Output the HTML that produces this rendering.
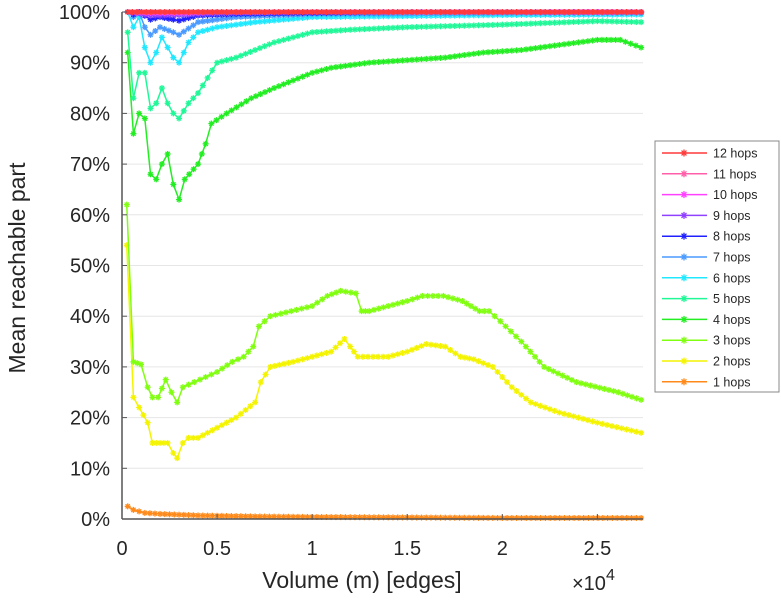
<!DOCTYPE html>
<html><head><meta charset="utf-8"><style>
body{margin:0;background:#fff}
svg text{font-family:"Liberation Sans",sans-serif;fill:#262626}
</style></head><body>
<svg id="chart" width="781" height="600" viewBox="0 0 781 600" xmlns="http://www.w3.org/2000/svg">
<g id="grid"></g>
<g id="series"></g>
<g id="axes"></g>
<text transform="translate(25,268) rotate(-90)" text-anchor="middle" font-size="23">Mean reachable part</text>
<text x="362" y="588" text-anchor="middle" font-size="23">Volume (m) [edges]</text>
<text x="572" y="590" font-size="20">×10<tspan dy="-10" font-size="16">4</tspan></text>
<g id="legend"></g>
</svg>
<script>
const yTicks=[0,10,20,30,40,50,60,70,80,90,100];
const xTicks=[0,0.5,1,1.5,2,2.5];
const seriesNames=["12 hops","11 hops","10 hops","9 hops","8 hops","7 hops","6 hops","5 hops","4 hops","3 hops","2 hops","1 hops"];
const seriesColors=["#ff3a3a","#ff5fa8","#ff40ff","#9040ff","#2020ff","#4a9aff","#20e8ff","#20f898","#22ee22","#80ff10","#f4f400","#ff8a1a"];
// x in thousands of edges
const x12=[0.3,2,5,10,15,20,25,27.3]; const y12=[100,100,100,100,100,100,100,100];
const x11=[0.3,2,5,10,15,20,25,27.3]; const y11=[100,100,100,100,100,100,100,100];
const x10=[0.3,1.5,3,5,10,15,20,27.3]; const y10=[100,99.8,99.8,100,100,100,100,100];
const x9=[0.3,1.5,3,5,10,15,20,27.3]; const y9=[100,99.3,99.4,99.8,100,100,100,100];
const x8=[0.3,0.6,0.9,1.5,2,2.7,3,4,6,10,15,20,27.3]; const y8=[100,99.5,100,98.5,99,98.5,98.3,99.3,99.6,99.8,100,100,100];
const x7=[0.3,0.6,0.9,1.2,1.5,2,2.7,3,4,6,10,15,20,27.3]; const y7=[100,99,100,97,95.5,97,96,95.5,98,99,99.6,99.7,99.8,99.8];
const x6=[0.3,0.6,0.9,1.2,1.5,1.8,2.1,2.4,2.7,3,3.5,4,5,7,10,15,20,27.3]; const y6=[100,97,99,93,90,92,95,93,91,90,94,96,97,98,99,99.2,99.4,99.5];
const x5=[0.3,0.6,0.9,1.2,1.5,1.8,2.1,2.4,2.7,3,3.5,4,4.5,5,6,7,8,9,10,12,15,20,25,27.3]; const y5=[96,83,88,88,81,82,85,82,80,79,82,84,87,90,91,92.5,94,95,96,96.5,97,97.5,98.2,98];
const x4=[0.3,0.6,0.9,1.2,1.5,1.8,2.1,2.4,2.7,3,3.3,4,4.4,4.7,5.5,6.8,8,10,11,13,15,17,19,21,23,25,26.2,27.3]; const y4=[92,76,80,79,68,67,70,72,66,63,67,70,74,78,80,83,85,88,89,90,90.5,91,92,92.5,93.5,94.5,94.5,93];
const x3=[0.25,0.6,1.0,1.35,1.6,1.9,2.3,2.6,2.9,3.2,3.8,4.4,5,5.8,6.4,6.9,7.2,7.8,8.9,10,10.8,11.5,12.3,12.6,13,14,15,15.8,16.9,17.9,18.8,19.3,19.9,21,22.2,23.9,26.1,27.3]; const y3=[62,31,30.5,26,24,24,27.5,25,23,26,27,28,29,31,32,34,38,40,41,42,44,45,44.5,41,41,42,43,44,44,43,41,41,39,35,30,27,25,23.5];
const x2=[0.25,0.6,0.9,1.35,1.6,2.0,2.4,2.7,2.9,3.2,3.5,4,5,6,7,7.3,7.8,9,10,11,11.7,12,12.4,14,15,16,17,17.8,18.5,19.5,20.5,21.5,23,25,27.3]; const y2=[54,24,22,19,15,15,15,13,12,15,16,16,18,20,23,27,30,31,32,33,35.5,34,32,32,33,34.5,34,32,31.5,30,26,23,21,19,17];
const x1=[0.3,0.6,1.2,2,4,7,10,15,20,27.3]; const y1=[2.5,1.8,1.2,1,0.7,0.5,0.4,0.3,0.2,0.2];
const allX=[x12,x11,x10,x9,x8,x7,x6,x5,x4,x3,x2,x1];
const allY=[y12,y11,y10,y9,y8,y7,y6,y5,y4,y3,y2,y1];

const L=122,R=643,T=12,B=519;
const xScale=v=>L+v/27.4*(R-L);
const yScale=v=>B-v/100*(B-T);
const NS="http://www.w3.org/2000/svg";
function mk(tag,attrs,parent){const e=document.createElementNS(NS,tag);for(const k in attrs)e.setAttribute(k,attrs[k]);parent.appendChild(e);return e;}
const grid=document.getElementById('grid'),axes=document.getElementById('axes'),ser=document.getElementById('series'),leg=document.getElementById('legend');
mk('rect',{x:L,y:T,width:R-L,height:B-T,fill:'#fff'},grid);
yTicks.forEach(t=>{
  const y=yScale(t);
  if(t>0){const g=mk('line',{x1:L,x2:R,y1:y,y2:y,stroke:'#e6e6e6','stroke-width':1},grid);
  
  }
  const tk=mk('line',{x1:L,x2:L+5,y1:y,y2:y,stroke:'#555'},axes);
  const tx=mk('text',{x:L-12,y:y+7,'text-anchor':'end','font-size':20},axes);tx.textContent=t+'%';
  
  
});
xTicks.forEach(t=>{
  const x=xScale(t*10);
  mk('line',{x1:x,x2:x,y1:B,y2:B-5,stroke:'#555'},axes);
  const tx=mk('text',{x:x,y:555,'text-anchor':'middle','font-size':20},axes);tx.textContent=t;
  
  
});
mk('line',{x1:L,x2:L,y1:T,y2:B,stroke:'#555','stroke-width':1.5},axes);
mk('line',{x1:L,x2:R,y1:B,y2:B,stroke:'#555','stroke-width':1.5},axes);
function star(g,x,y,c,s){
  for(let a=0;a<4;a++){const an=a*Math.PI/4;const dx=Math.cos(an)*s,dy=Math.sin(an)*s;
  mk('line',{x1:x-dx,y1:y-dy,x2:x+dx,y2:y+dy,stroke:c,'stroke-width':1.3},g);}
}
function dense(xs,ys){const px=[],py=[];for(let i=0;i<xs.length-1;i++){const n=Math.max(1,Math.round((xs[i+1]-xs[i])/0.25));for(let j=0;j<n;j++){const f=j/n;px.push(xs[i]+f*(xs[i+1]-xs[i]));py.push(ys[i]+f*(ys[i+1]-ys[i]));}}px.push(xs[xs.length-1]);py.push(ys[ys.length-1]);return [px,py];}
for(let s=allX.length-1;s>=0;s--){
  const g=mk('g',{},ser);
  
  
  const c=seriesColors[s];
  const pts=allX[s].map((v,i)=>xScale(v)+','+yScale(allY[s][i])).join(' ');
  mk('polyline',{points:pts,fill:'none',stroke:c,'stroke-width':1.5},g);
  const [px,py]=dense(allX[s],allY[s]);
  px.forEach((v,i)=>star(g,xScale(v),yScale(py[i]),c,3));
}
mk('rect',{x:655,y:141,width:124,height:251,fill:'#fff',stroke:'#888'},leg);
seriesNames.forEach((n,i)=>{
  const y=153+i*20.8;
  const g=mk('g',{},leg);
  
  
  mk('line',{x1:662,x2:707,y1:y,y2:y,stroke:seriesColors[i],'stroke-width':1.5},g);
  star(g,684,y,seriesColors[i],3.5);
  const t=mk('text',{x:713,y:y+4.5,'font-size':12.5},g);t.textContent=n;
});
</script>
</body></html>
